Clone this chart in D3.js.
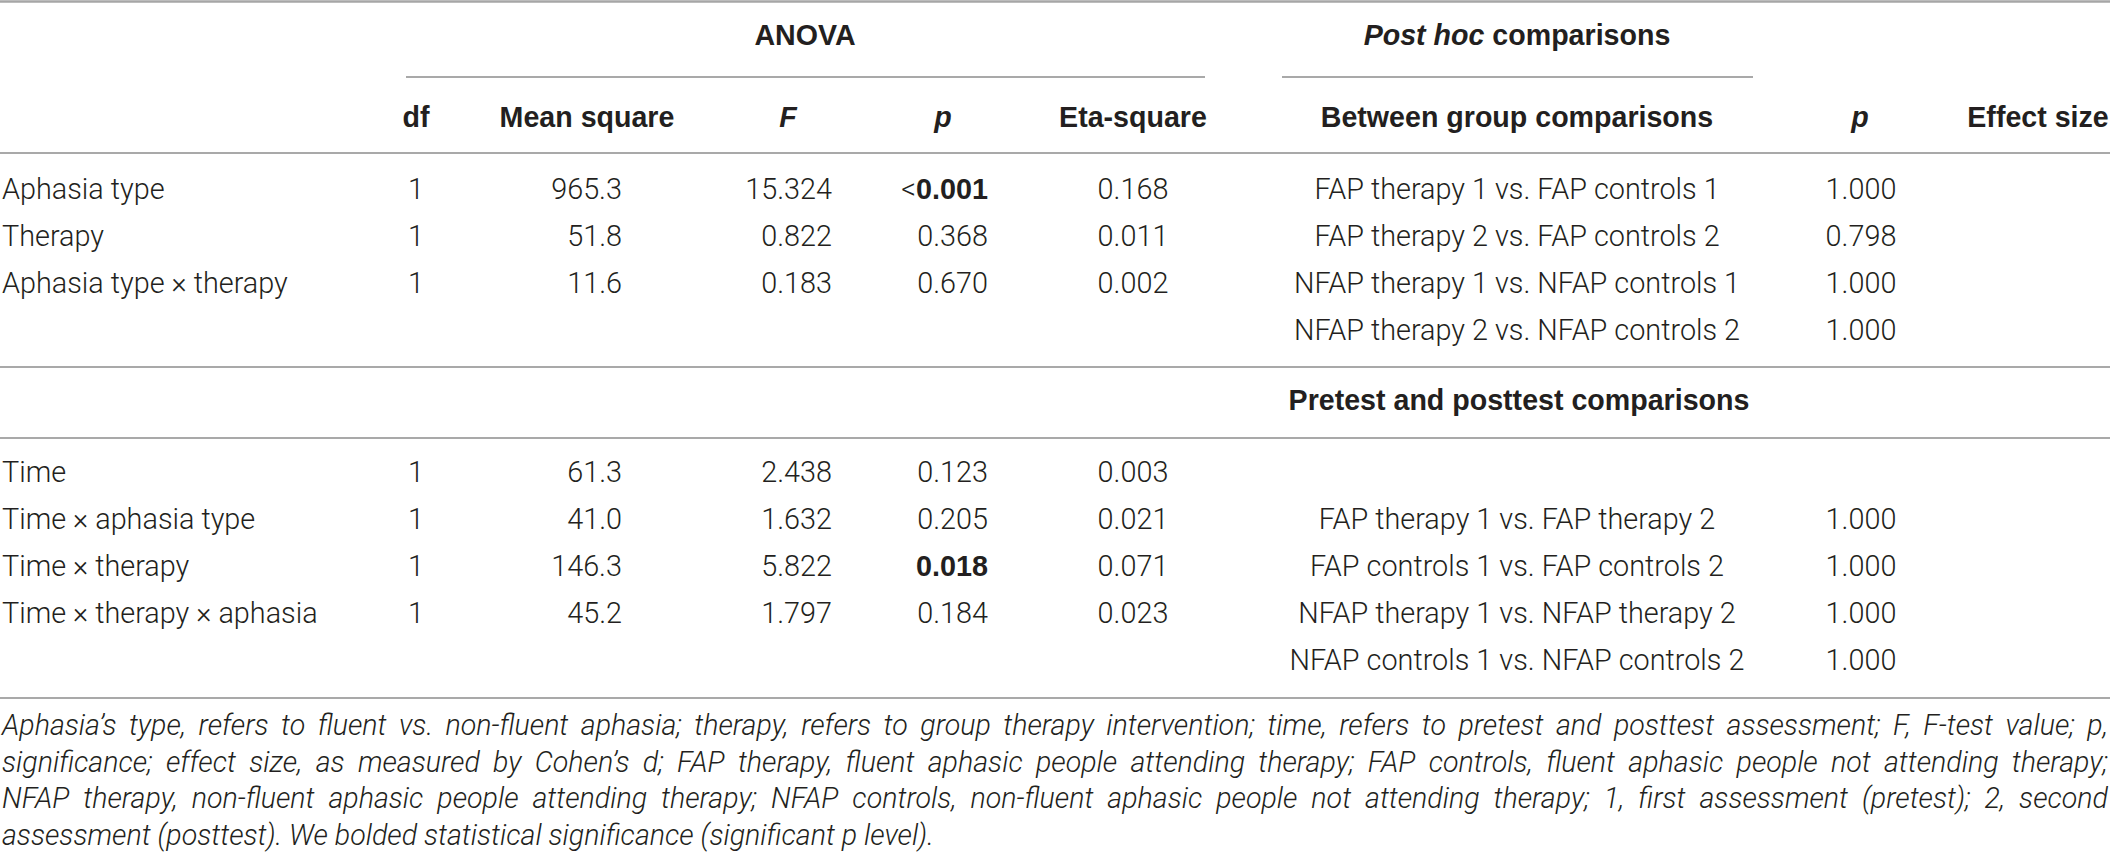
<!DOCTYPE html>
<html><head><meta charset="utf-8">
<script src="https://cdn.jsdelivr.net/npm/d3@7"></script>
<style>
html,body{margin:0;padding:0;background:#fff;overflow:hidden;}
svg text{font-family:Roboto,"Liberation Sans",Arial,sans-serif;fill:#231f20;}
svg text.bold{font-family:"Liberation Sans",Arial,Helvetica,sans-serif;font-weight:700;}
</style></head><body>
<svg id="c" width="2110" height="854"></svg>
<script>
// ---- data ----
const anovaEffects = ["Aphasia type","Therapy","Aphasia type \u00d7 therapy","Time","Time \u00d7 aphasia type","Time \u00d7 therapy","Time \u00d7 therapy \u00d7 aphasia"];
const dfValues = ["1","1","1","1","1","1","1"];
const meanSquares = ["965.3","51.8","11.6","61.3","41.0","146.3","45.2"];
const fValues = ["15.324","0.822","0.183","2.438","1.632","5.822","1.797"];
const pValues = ["0.001","0.368","0.670","0.123","0.205","0.018","0.184"];
const pPrefix = ["<","","","","","",""];
const pSignificant = [true,false,false,false,false,true,false];
const etaSquares = ["0.168","0.011","0.002","0.003","0.021","0.071","0.023"];
const anovaSection = [0,0,0,1,1,1,1];
const anovaSlot = [0,1,2,0,1,2,3];
const betweenComparisons = ["FAP therapy 1 vs. FAP controls 1","FAP therapy 2 vs. FAP controls 2","NFAP therapy 1 vs. NFAP controls 1","NFAP therapy 2 vs. NFAP controls 2"];
const betweenP = ["1.000","0.798","1.000","1.000"];
const prePostComparisons = ["FAP therapy 1 vs. FAP therapy 2","FAP controls 1 vs. FAP controls 2","NFAP therapy 1 vs. NFAP therapy 2","NFAP controls 1 vs. NFAP controls 2"];
const prePostP = ["1.000","1.000","1.000","1.000"];
const prePostSlot = [1,2,3,4];
const headerLabels = ["df","Mean square","F","p","Eta-square","Between group comparisons","p","Effect size"];
const headerKeys = ["df","ms","f","p","eta","cmp","p2","es"];
const headerItalic = [false,false,true,true,false,false,true,false];
const subHeading = "Pretest and posttest comparisons";
const footnoteLines = [
 "Aphasia\u2019s type, refers to fluent vs. non-fluent aphasia; therapy, refers to group therapy intervention; time, refers to pretest and posttest assessment; F, F-test value; p,",
 "significance; effect size, as measured by Cohen\u2019s d; FAP therapy, fluent aphasic people attending therapy; FAP controls, fluent aphasic people not attending therapy;",
 "NFAP therapy, non-fluent aphasic people attending therapy; NFAP controls, non-fluent aphasic people not attending therapy; 1, first assessment (pretest); 2, second",
 "assessment (posttest). We bolded statistical significance (significant p level)."
];

// ---- layout ----
const W = 2110, H = 854;
const svg = d3.select("#c");
const FS = 28.8, FB = 28.6, FN = 28.6;
const rule = "#8c8c8c";

// column positions (header centre / value anchor)
const colX = d3.scaleOrdinal().domain(headerKeys).range([416,587,788,943,1133,1517,1860,2038]);
const valX = d3.scaleOrdinal().domain(["df","ms","f","p","eta","cmp","p2"]).range([416,622,832,988,1133,1517,1861]);
const valAnchor = {df:"middle",ms:"end",f:"end",p:"end",eta:"middle",cmp:"middle",p2:"middle"};

// row position scales
const rowY1 = d3.scaleLinear().domain([0,1]).range([199,246]);
const rowY2 = d3.scaleLinear().domain([0,1]).range([482,529]);
const rowY = (sec, slot) => sec === 0 ? rowY1(slot) : rowY2(slot);

// rules
const rules = [
  {x1:0,x2:W,y:1.5,w:2.5,c:"#a6a6a6"},
  {x1:406,x2:1205,y:77,w:1.5,c:rule},
  {x1:1282,x2:1753,y:77,w:1.5,c:rule},
  {x1:0,x2:W,y:153,w:1.5,c:rule},
  {x1:0,x2:W,y:367,w:1.5,c:rule},
  {x1:0,x2:W,y:438,w:1.5,c:rule},
  {x1:0,x2:W,y:698,w:1.5,c:rule}
];
svg.selectAll("line.rule").data(rules).join("line").attr("class","rule")
  .attr("x1",d=>d.x1).attr("x2",d=>d.x2).attr("y1",d=>d.y).attr("y2",d=>d.y)
  .attr("stroke",d=>d.c).attr("stroke-width",d=>d.w);

// spanning headers
svg.append("text").attr("class","bold").attr("x",805).attr("y",45).attr("text-anchor","middle")
  .attr("font-size",FB).text("ANOVA");
const ph = svg.append("text").attr("class","bold").attr("x",1517).attr("y",45).attr("text-anchor","middle")
  .attr("font-size",FB);
ph.append("tspan").attr("font-style","italic").text("Post hoc");
ph.append("tspan").text(" comparisons");

// column headers
svg.selectAll("text.hdr").data(headerKeys).join("text").attr("class","hdr bold")
  .attr("x",d=>colX(d)).attr("y",127).attr("text-anchor","middle")
  .attr("font-size",FB)
  .attr("font-style",(d,i)=>headerItalic[i]?"italic":"normal")
  .text((d,i)=>headerLabels[i]);

// ANOVA rows
const rows = anovaEffects.map((e,i)=>({e,i,y:rowY(anovaSection[i],anovaSlot[i])}));
const g = svg.append("g").attr("font-size",FS).attr("font-weight",300);
g.selectAll("text.lab").data(rows).join("text").attr("class","lab")
  .attr("x",2).attr("y",d=>d.y).text(d=>d.e);
const cols = [["df",dfValues],["ms",meanSquares],["f",fValues],["eta",etaSquares]];
cols.forEach(([k,arr])=>{
  g.selectAll("text.v"+k).data(rows).join("text").attr("class","v"+k)
    .attr("x",valX(k)).attr("y",d=>d.y).attr("text-anchor",valAnchor[k]).text(d=>arr[d.i]);
});
const pt = g.selectAll("text.vp").data(rows).join("text").attr("class","vp")
  .attr("x",valX("p")).attr("y",d=>d.y).attr("text-anchor","end");
pt.append("tspan").text(d=>pPrefix[d.i]);
pt.append("tspan").style("font-family",d=>pSignificant[d.i]?"'Liberation Sans',Arial,sans-serif":null)
  .attr("font-weight",d=>pSignificant[d.i]?700:300).text(d=>pValues[d.i]);

// post hoc comparisons
const bRows = betweenComparisons.map((c,i)=>({c,p:betweenP[i],y:rowY(0,i)}));
const pRows = prePostComparisons.map((c,i)=>({c,p:prePostP[i],y:rowY(1,prePostSlot[i])}));
const allCmp = bRows.concat(pRows);
g.selectAll("text.cmp").data(allCmp).join("text").attr("class","cmp")
  .attr("x",valX("cmp")).attr("y",d=>d.y).attr("text-anchor","middle").text(d=>d.c);
g.selectAll("text.cp").data(allCmp).join("text").attr("class","cp")
  .attr("x",valX("p2")).attr("y",d=>d.y).attr("text-anchor","middle").text(d=>d.p);

svg.append("text").attr("class","bold").attr("x",1519).attr("y",410).attr("text-anchor","middle")
  .attr("font-size",FB).text(subHeading);

// footnote, justified
const fnY = d3.scaleLinear().domain([0,1]).range([735,771.7]);
const fn = svg.selectAll("text.fn").data(footnoteLines).join("text").attr("class","fn")
  .attr("x",2).attr("y",(d,i)=>fnY(i)).attr("font-size",FN)
  .attr("font-style","italic").attr("font-weight",300).text(d=>d);
fn.each(function(d,i){
  if(i === footnoteLines.length-1) return;
  const w = this.getComputedTextLength();
  const n = (d.match(/ /g)||[]).length;
  const target = 2106;
  d3.select(this).style("word-spacing", ((target-w)/n)+"px");
});
</script>
</body></html>
